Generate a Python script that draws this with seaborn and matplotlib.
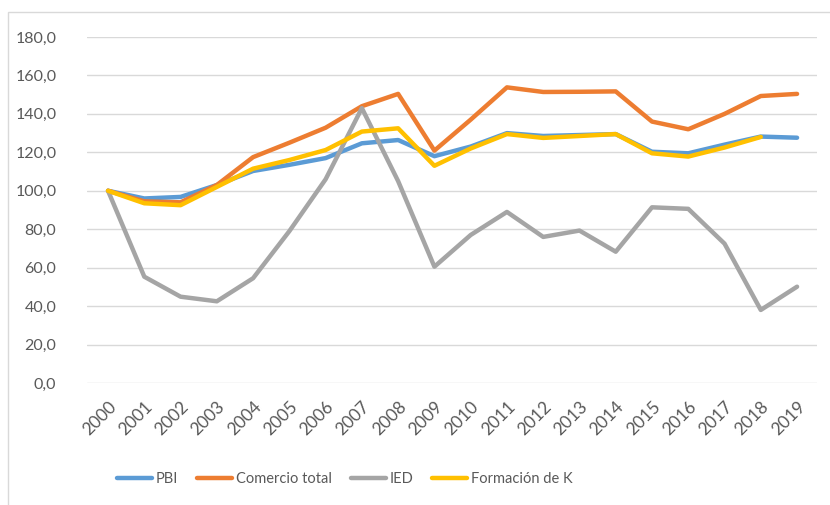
import matplotlib
matplotlib.use("Agg")
import matplotlib.pyplot as plt
import numpy as np
import pandas as pd
import seaborn as sns
from matplotlib.lines import Line2D
from matplotlib.patches import Rectangle

years = list(range(2000, 2020))
pbi = [100.0, 96.0, 96.8, 103.0, 110.3, 113.5, 117.0, 124.7, 126.4, 118.0,
       123.0, 130.0, 128.5, 129.0, 129.5, 120.3, 119.5, 124.0, 128.2, 127.6]
comercio = [100.0, 94.5, 94.0, 103.0, 117.5, 125.0, 132.8, 144.0, 150.4, 120.9,
            137.0, 153.8, 151.4, 151.5, 151.7, 136.0, 132.0, 140.0, 149.3, 150.4]
ied = [100.0, 55.3, 44.9, 42.5, 54.5, 79.0, 106.0, 143.0, 105.0, 60.5,
       77.0, 89.0, 76.0, 79.3, 68.3, 91.4, 90.6, 72.5, 38.0, 50.1]
formacion = [100.0, 93.5, 92.5, 102.0, 111.5, 116.0, 121.2, 130.8, 132.5, 113.0,
             122.0, 129.5, 127.5, 128.5, 129.5, 119.5, 117.8, 122.5, 128.0, np.nan]

series_names = ["PBI", "Comercio total", "IED", "Formación de K"]
colors = ["#5B9BD5", "#ED7D31", "#A5A5A5", "#FFC000"]
y_ticks = [0, 20, 40, 60, 80, 100, 120, 140, 160, 180]

df = pd.DataFrame({"year": years, "PBI": pbi, "Comercio total": comercio,
                   "IED": ied, "Formación de K": formacion})
long_df = df.melt(id_vars="year", var_name="serie", value_name="valor").dropna()

sns.set_theme(style="white")
plt.rcParams["font.family"] = ["Lato", "DejaVu Sans"]

fig = plt.figure(figsize=(8.3, 5.05), dpi=100)
ax = fig.add_axes([87 / 830, 1 - 383 / 505, (817 - 87) / 830, (383 - 37) / 505])

sns.lineplot(data=long_df, x="year", y="valor", hue="serie", hue_order=series_names,
             palette=colors, linewidth=3.2, errorbar=None, legend=False, ax=ax)
for line in ax.get_lines():
    line.set_solid_joinstyle("round")
    line.set_solid_capstyle("round")

ax.set_ylim(0, 180)
ax.set_xlim(years[0] - 0.58, years[-1] + 0.55)
ax.set_yticks(y_ticks)
ax.set_yticklabels([f"{v:.1f}".replace(".", ",") for v in y_ticks])
ax.set_xticks(years)
ax.set_xticklabels([str(y) for y in years], rotation=45, ha="right",
                   rotation_mode="anchor")
ax.tick_params(axis="y", length=0, labelsize=11.5, colors="#595959", pad=22)
ax.tick_params(axis="x", length=0, labelsize=12.5, colors="#595959", pad=11)
ax.set_xlabel("")
ax.set_ylabel("")
for s in ax.spines.values():
    s.set_visible(False)
ax.grid(axis="y", color="#D9D9D9", linewidth=1.0)
ax.set_axisbelow(True)

handles = [Line2D([0], [0], color=c, linewidth=3.2) for c in colors]
fig.legend(handles, series_names, loc="center", bbox_to_anchor=(345 / 830, 1 - 479 / 505),
           ncol=4, frameon=False, fontsize=10.5, handlelength=2.4, handletextpad=0.25,
           columnspacing=1.3, labelcolor="#595959")

fig.patches.append(Rectangle((8 / 830, -0.05), 1.0, 1.05 - 12 / 505, transform=fig.transFigure,
                             fill=False, edgecolor="#D9D9D9", linewidth=1.0))

fig.savefig("out.png", dpi=100, facecolor="white")
plt.close(fig)
